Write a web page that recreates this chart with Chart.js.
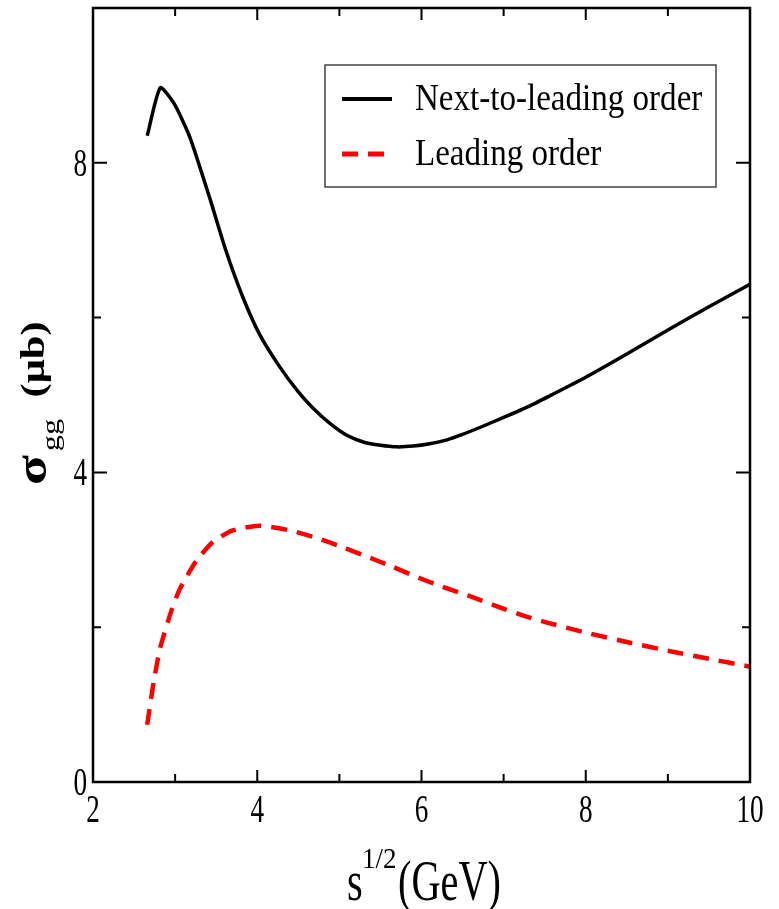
<!DOCTYPE html>
<html>
<head>
<meta charset="utf-8">
<title>Gluon-gluon cross section</title>
<script src="https://cdn.jsdelivr.net/npm/chart.js@4"></script>
<style>
  html, body { margin: 0; padding: 0; background: #fff; }
  #wrap { width: 779px; height: 909px; position: relative; }
</style>
</head>
<body>
<div id="wrap"><canvas id="sigmaChart"></canvas></div>
<script>
// sqrt(s) in GeV
const nloX = [2.66, 2.82, 2.99, 3.18, 3.42, 3.62, 3.83, 4.03, 4.27, 4.5, 4.68, 4.9, 5.09, 5.3, 5.5, 5.7, 5.9, 6.1, 6.31, 6.5, 6.71, 7.0, 7.32, 7.6, 8.0, 8.5, 9.0, 9.5, 10.0];
const nloY = [8.35, 8.97, 8.76, 8.33, 7.55, 6.86, 6.25, 5.78, 5.37, 5.04, 4.83, 4.62, 4.48, 4.39, 4.35, 4.33, 4.34, 4.37, 4.42, 4.49, 4.58, 4.71, 4.86, 5.01, 5.23, 5.53, 5.84, 6.14, 6.43];

const loX = [2.66, 2.74, 2.82, 2.96, 3.06, 3.26, 3.46, 3.7, 4.03, 4.4, 4.73, 5.05, 5.34, 5.65, 5.94, 6.26, 6.59, 6.92, 7.24, 7.53, 8.0, 8.54, 9.03, 9.51, 10.0];
const loY = [0.74, 1.3, 1.74, 2.23, 2.5, 2.86, 3.1, 3.25, 3.31, 3.25, 3.15, 3.03, 2.91, 2.78, 2.65, 2.52, 2.4, 2.27, 2.15, 2.06, 1.93, 1.8, 1.69, 1.59, 1.49];

const xTicks = [2, 4, 6, 8, 10];
const yTicks = [0, 4, 8];

const serif = '"Liberation Serif", "DejaVu Serif", serif';

function pts(xs, ys) {
  return xs.map((x, i) => ({ x: x, y: ys[i] }));
}

// text squeezed horizontally, like the printed figure
function sqText(ctx, txt, x, y, font, sx, align) {
  ctx.save();
  ctx.font = font;
  ctx.translate(x, y);
  ctx.scale(sx, 1);
  ctx.textAlign = align || 'left';
  ctx.textBaseline = 'alphabetic';
  ctx.fillText(txt, 0, 0);
  ctx.restore();
}

const framePlugin = {
  id: 'frame',
  afterDraw(chart) {
    const ctx = chart.ctx;
    const a = chart.chartArea;
    const xs = chart.scales.x, ys = chart.scales.y;
    ctx.save();
    ctx.strokeStyle = '#000';
    ctx.fillStyle = '#000';
    ctx.lineWidth = 2.5;
    ctx.strokeRect(a.left, a.top, a.right - a.left, a.bottom - a.top);

    // inward ticks on all four sides
    ctx.lineWidth = 2;
    ctx.beginPath();
    for (let v = 3; v < 10; v++) {
      const px = xs.getPixelForValue(v);
      const len = v % 2 === 0 ? 12 : 8;
      ctx.moveTo(px, a.bottom); ctx.lineTo(px, a.bottom - len);
      ctx.moveTo(px, a.top); ctx.lineTo(px, a.top + len);
    }
    for (let v = 2; v < 10; v += 2) {
      const py = ys.getPixelForValue(v);
      const len = v % 4 === 0 ? 14 : 8;
      ctx.moveTo(a.left, py); ctx.lineTo(a.left + len, py);
      ctx.moveTo(a.right, py); ctx.lineTo(a.right - len, py);
    }
    ctx.stroke();

    // tick labels
    xTicks.forEach(v => {
      sqText(ctx, String(v), xs.getPixelForValue(v), 822, '40px ' + serif, 0.68, 'center');
    });
    yTicks.forEach(v => {
      sqText(ctx, String(v), a.left - 6, ys.getPixelForValue(v) + 13, '40px ' + serif, 0.68, 'right');
    });

    // x title: s^{1/2}(GeV)
    sqText(ctx, 's', 347, 900, '56px ' + serif, 0.72, 'left');
    sqText(ctx, '1/2', 362, 868, '30px ' + serif, 0.9, 'left');
    sqText(ctx, '(GeV)', 398, 900, '56px ' + serif, 0.72, 'left');

    // y title: sigma_gg (mu b), rotated
    ctx.save();
    ctx.translate(46, 485);
    ctx.rotate(-Math.PI / 2);
    ctx.scale(1.25, 1);
    ctx.textBaseline = 'alphabetic';
    ctx.font = 'bold 44px ' + serif;
    ctx.fillText('σ', 0, 0);
    ctx.font = '26px ' + serif;
    ctx.fillText('gg', 27, 13);
    ctx.font = 'bold 34px ' + serif;
    ctx.fillText('(μb)', 70, -2);
    ctx.restore();

    // legend box
    const box = { l: 325, t: 65, r: 716, b: 187 };
    ctx.lineWidth = 1.5;
    ctx.strokeStyle = '#444';
    ctx.strokeRect(box.l, box.t, box.r - box.l, box.b - box.t);
    const rows = [99, 154];
    chart.data.datasets.forEach((ds, i) => {
      ctx.save();
      ctx.strokeStyle = ds.borderColor;
      ctx.lineWidth = ds.borderWidth + 0.5;
      ctx.setLineDash(ds.borderDash || []);
      ctx.beginPath();
      ctx.moveTo(342, rows[i]);
      ctx.lineTo(ds.borderDash ? 385 : 392, rows[i]);
      ctx.stroke();
      ctx.restore();
      sqText(ctx, ds.label, 415, rows[i] + 11, '38px ' + serif, 0.87, 'left');
    });
    ctx.restore();
  }
};

new Chart(document.getElementById('sigmaChart'), {
  type: 'line',
  data: {
    datasets: [
      {
        label: 'Next-to-leading order',
        data: pts(nloX, nloY),
        borderColor: '#000000',
        borderWidth: 3.5,
        pointRadius: 0,
        tension: 0.2,
        fill: false
      },
      {
        label: 'Leading order',
        data: pts(loX, loY),
        borderColor: '#ff0000',
        borderWidth: 4.5,
        borderDash: [16, 10],
        pointRadius: 0,
        tension: 0.2,
        fill: false
      }
    ]
  },
  options: {
    responsive: true,
    maintainAspectRatio: false,
    animation: false,
    layout: { padding: { left: 93, right: 29, top: 8, bottom: 127 } },
    plugins: { legend: { display: false }, tooltip: { enabled: false } },
    scales: {
      x: { type: 'linear', min: 2, max: 10, display: false },
      y: { type: 'linear', min: 0, max: 10, display: false }
    }
  },
  plugins: [framePlugin]
});
</script>
</body>
</html>
